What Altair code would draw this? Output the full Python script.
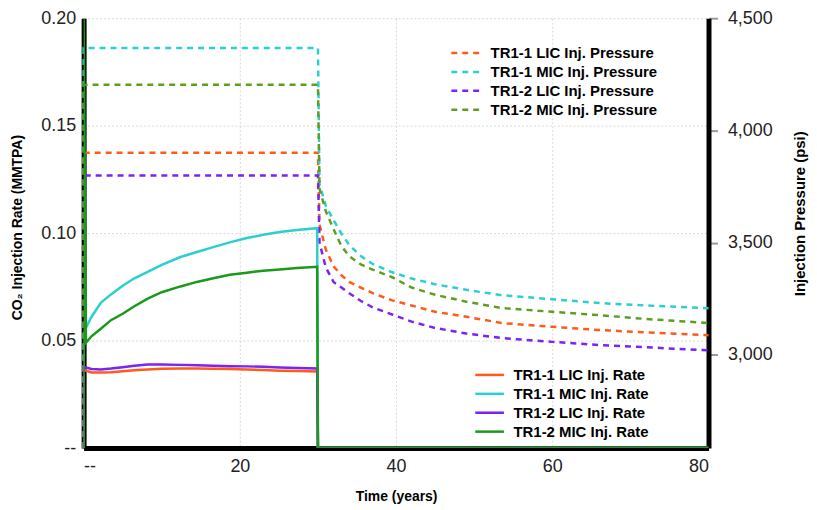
import altair as alt
import pandas as pd

FONT = "Liberation Sans"

# ---------------- data ----------------
pressure_names = ["TR1-1 LIC Inj. Pressure", "TR1-1 MIC Inj. Pressure",
                  "TR1-2 LIC Inj. Pressure", "TR1-2 MIC Inj. Pressure"]
pressure_colors = ["#ff5a1a", "#2ccfcf", "#7b22f5", "#5e9e1e"]
rate_names = ["TR1-1 LIC Inj. Rate", "TR1-1 MIC Inj. Rate",
              "TR1-2 LIC Inj. Rate", "TR1-2 MIC Inj. Rate"]
rate_colors = ["#ff5a1a", "#2ccfcf", "#7b22f5", "#1a9a1a"]

p_years = [0, 0, 30, 30.2, 31, 32, 33, 34, 35.5, 37, 39.5, 42, 45, 49, 53.5, 60, 66, 72, 80]
p_tr11_lic = [2585, 3901, 3901, 3580, 3470, 3395, 3355, 3325, 3300, 3275, 3243, 3220, 3192, 3170, 3142, 3125, 3111, 3100, 3088]
p_tr11_mic = [2585, 4367, 4367, 3760, 3665, 3600, 3541, 3490, 3440, 3405, 3368, 3340, 3315, 3290, 3266, 3248, 3231, 3220, 3208]
p_tr12_lic = [2585, 3799, 3799, 3500, 3390, 3325, 3300, 3275, 3240, 3212, 3180, 3148, 3120, 3095, 3075, 3058, 3044, 3034, 3020]
p_tr12_mic = [2585, 4203, 4203, 3740, 3640, 3560, 3485, 3440, 3403, 3380, 3346, 3300, 3268, 3237, 3209, 3192, 3177, 3160, 3142]

r_years = [0, 0, 0.3, 1, 2.2, 3.5, 5, 6.5, 8.2, 10, 12.4, 14.5, 16.6, 18.7, 20.9, 23, 25.1, 27.3, 29.9, 30, 80]
r_tr11_lic = [0, 0.037, 0.036, 0.0352, 0.0351, 0.0353, 0.0357, 0.0362, 0.0366, 0.0369, 0.037, 0.037, 0.0369, 0.0368, 0.0366, 0.0363, 0.036, 0.0358, 0.0356, 0, 0]
r_tr11_mic = [0, 0.054, 0.056, 0.061, 0.0676, 0.0715, 0.0755, 0.079, 0.082, 0.0852, 0.0889, 0.0912, 0.0935, 0.0957, 0.0977, 0.0992, 0.1005, 0.1015, 0.1023, 0, 0]
r_tr12_lic = [0, 0.0378, 0.0375, 0.0368, 0.0366, 0.037, 0.0376, 0.0383, 0.0389, 0.0389, 0.0387, 0.0385, 0.0383, 0.0381, 0.038, 0.0378, 0.0375, 0.0373, 0.037, 0, 0]
r_tr12_mic = [0, 0.2, 0.049, 0.052, 0.0555, 0.0595, 0.0625, 0.066, 0.0695, 0.0725, 0.0752, 0.0773, 0.079, 0.0806, 0.0816, 0.0825, 0.0831, 0.0838, 0.0843, 0, 0]

x_ticks = [0, 20, 40, 60, 80]
rate_ticks = [0, 0.05, 0.10, 0.15, 0.20]
pressure_ticks = [3000, 3500, 4000, 4500]
pressure_domain = [2585, 4500]

# ---------------- tables ----------------
rows = []
for name, vals in zip(pressure_names, [p_tr11_lic, p_tr11_mic, p_tr12_lic, p_tr12_mic]):
    for i, (t, v) in enumerate(zip(p_years, vals)):
        rows.append({"series": name, "t": t, "v": v, "i": i})
pdf = pd.DataFrame(rows)

rows = []
for name, vals in zip(rate_names, [r_tr11_lic, r_tr11_mic, r_tr12_lic, r_tr12_mic]):
    for i, (t, v) in enumerate(zip(r_years, vals)):
        rows.append({"series": name, "t": t, "v": v, "i": i})
rdf = pd.DataFrame(rows)

x_enc = alt.X("t:Q", scale=alt.Scale(domain=[0, 80], nice=False),
              axis=alt.Axis(values=x_ticks, title="Time (years)",
                            labelExpr="datum.value == 0 ? '--' : datum.label",
                            grid=True, gridColor="#d9d9d9", gridDash=[2, 2],
                            ticks=False, labelPadding=10, titlePadding=14))

legend_common = dict(title=None, orient="none", symbolStrokeWidth=2.5,
                     labelFont=FONT, labelFontSize=15, labelFontWeight="bold",
                     labelColor="black", labelLimit=400, rowPadding=0)

pressure = alt.Chart(pdf).mark_line(strokeDash=[6, 5], strokeWidth=2.5).encode(
    x=x_enc,
    y=alt.Y("v:Q", scale=alt.Scale(domain=pressure_domain, nice=False, zero=False),
            axis=alt.Axis(orient="right", values=pressure_ticks,
                          labelExpr="format(datum.value, ',.0f')",
                          title="Injection Pressure (psi)", titleAngle=270,
                          titleX=91, titleY=196, titleBaseline="middle",
                          titleFontSize=15,
                          tickSize=9, tickColor="#999999", tickWidth=2,
                          labelPadding=10, grid=False)),
    color=alt.Color("series:N", scale=alt.Scale(domain=pressure_names, range=pressure_colors),
                    legend=alt.Legend(legendX=372.5, legendY=24, labelOffset=14.5,
                                      symbolType="M-1.47,0H1.47", symbolSize=361,
                                      symbolDash=[6, 5], **legend_common)),
    order="i:Q",
    detail="series:N",
)

rate = alt.Chart(rdf).mark_line(strokeWidth=2.5, clip=True).encode(
    x=x_enc,
    y=alt.Y("v:Q", scale=alt.Scale(domain=[0, 0.2], nice=False),
            axis=alt.Axis(orient="left", values=rate_ticks,
                          labelExpr="datum.value == 0 ? '--' : format(datum.value, '.2f')",
                          title="CO₂ Injection Rate (MMTPA)", titleAngle=270,
                          titleX=-66, titleY=210, titleBaseline="middle",
                          ticks=False, labelPadding=8,
                          grid=True, gridColor="#d9d9d9", gridDash=[2, 2])),
    color=alt.Color("series:N", scale=alt.Scale(domain=rate_names, range=rate_colors),
                    legend=alt.Legend(legendX=397.5, legendY=348, labelOffset=13.5,
                                      symbolType="M-1.6,0H1.6", symbolSize=324,
                                      **legend_common)),
    order="i:Q",
    detail="series:N",
)

chart = alt.layer(pressure, rate).resolve_scale(
    y="independent", color="independent"
).properties(
    width=628, height=432,
    autosize=alt.AutoSizeParams(type="none"),
    padding={"left": 76, "top": 9, "right": 101, "bottom": 60},
).configure_view(stroke=None).configure_axis(
    labelFont=FONT, labelFontSize=18, labelColor="#222222",
    titleFont=FONT, titleFontSize=14, titleFontWeight="bold", titleColor="black",
    domainColor="black", domainWidth=5,
)

chart.save("out.html", embed_options={"renderer": "svg", "actions": False})
